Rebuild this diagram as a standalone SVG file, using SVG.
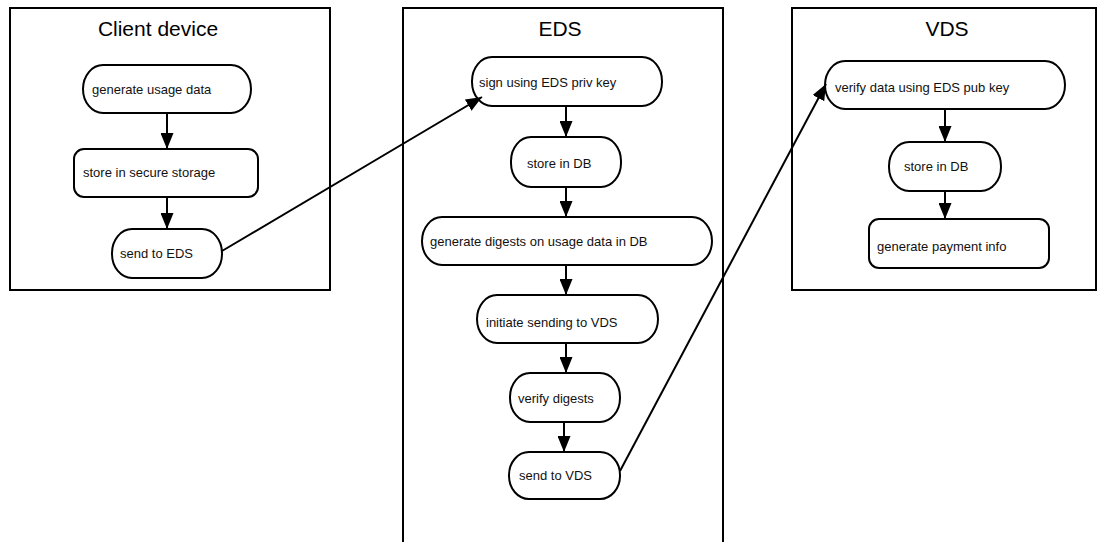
<svg xmlns="http://www.w3.org/2000/svg" width="1100" height="542" viewBox="0 0 1100 542">
  <style>
    .lane { fill: #ffffff; stroke: #000000; stroke-width: 2; }
    .title { font-family: "Liberation Sans", Arial, sans-serif; font-size: 21px; fill: #000000; text-anchor: middle; }
    .node { fill: #ffffff; stroke: #000000; stroke-width: 2; }
    .label { font-family: "Liberation Sans", Arial, sans-serif; font-size: 13px; fill: #111111; }
    .edge { fill: none; stroke: #000000; stroke-width: 2; marker-end: url(#arrow); }
  </style>
  <defs>
    <marker id="arrow" viewBox="0 0 16 13" refX="16" refY="6.5" markerWidth="16" markerHeight="13" markerUnits="userSpaceOnUse" orient="auto">
      <path d="M0,0 L16,6.5 L0,13 z" fill="#000000"/>
    </marker>
  </defs>
  <rect width="1100" height="542" fill="#ffffff"/>

  <!-- swimlanes -->
  <g id="lane-client">
    <rect class="lane" x="10" y="8" width="320" height="282"/>
    <text class="title" x="158" y="36">Client device</text>
  </g>
  <g id="lane-eds">
    <rect class="lane" x="403" y="8" width="320" height="545"/>
    <text class="title" x="560" y="36">EDS</text>
  </g>
  <g id="lane-vds">
    <rect class="lane" x="792" y="8" width="304" height="282"/>
    <text class="title" x="947" y="36">VDS</text>
  </g>

  <!-- client device steps -->
  <g id="generate-usage-data">
    <rect class="node" x="83" y="65" width="168" height="48" rx="20" ry="24"/>
    <text class="label" x="92" y="94">generate usage data</text>
  </g>
  <g id="store-secure">
    <rect class="node" x="74" y="149" width="184" height="48" rx="10" ry="10"/>
    <text class="label" x="83" y="177">store in secure storage</text>
  </g>
  <g id="send-to-eds">
    <rect class="node" x="112" y="229" width="110" height="49" rx="20" ry="24"/>
    <text class="label" x="120" y="258">send to EDS</text>
  </g>

  <!-- EDS steps -->
  <g id="sign-priv-key">
    <rect class="node" x="472" y="57" width="190" height="49" rx="20" ry="24"/>
    <text class="label" x="479" y="87">sign using EDS priv key</text>
  </g>
  <g id="eds-store-db">
    <rect class="node" x="511" y="137" width="110" height="50" rx="20" ry="24"/>
    <text class="label" x="527" y="168">store in DB</text>
  </g>
  <g id="generate-digests">
    <rect class="node" x="422" y="217" width="290" height="48" rx="20" ry="24"/>
    <text class="label" x="430" y="246">generate digests on usage data in DB</text>
  </g>
  <g id="initiate-sending">
    <rect class="node" x="477" y="295" width="181" height="48" rx="20" ry="24"/>
    <text class="label" x="486" y="327">initiate sending to VDS</text>
  </g>
  <g id="verify-digests">
    <rect class="node" x="510" y="373" width="110" height="49" rx="20" ry="24"/>
    <text class="label" x="518" y="403">verify digests</text>
  </g>
  <g id="send-to-vds">
    <rect class="node" x="509" y="452" width="111" height="47" rx="20" ry="23"/>
    <text class="label" x="519" y="480">send to VDS</text>
  </g>

  <!-- VDS steps -->
  <g id="verify-pub-key">
    <rect class="node" x="825" y="61" width="240" height="48" rx="20" ry="24"/>
    <text class="label" x="835" y="92">verify data using EDS pub key</text>
  </g>
  <g id="vds-store-db">
    <rect class="node" x="889" y="142" width="112" height="49" rx="20" ry="24"/>
    <text class="label" x="904" y="171">store in DB</text>
  </g>
  <g id="payment-info">
    <rect class="node" x="869" y="219" width="180" height="49" rx="10" ry="10"/>
    <text class="label" x="877" y="251">generate payment info</text>
  </g>

  <!-- connectors -->
  <g id="connectors">
    <line class="edge" x1="167" y1="113" x2="167" y2="149"/>
    <line class="edge" x1="167" y1="197" x2="167" y2="229"/>
    <line class="edge" x1="222" y1="251" x2="482" y2="97"/>
    <line class="edge" x1="566" y1="106" x2="566" y2="137"/>
    <line class="edge" x1="566" y1="187" x2="566" y2="217"/>
    <line class="edge" x1="566" y1="265" x2="566" y2="295"/>
    <line class="edge" x1="566" y1="343" x2="566" y2="373"/>
    <line class="edge" x1="564" y1="422" x2="564" y2="452"/>
    <line class="edge" x1="620" y1="471" x2="826" y2="84"/>
    <line class="edge" x1="945" y1="109" x2="945" y2="142"/>
    <line class="edge" x1="945" y1="191" x2="945" y2="219"/>
  </g>
</svg>
